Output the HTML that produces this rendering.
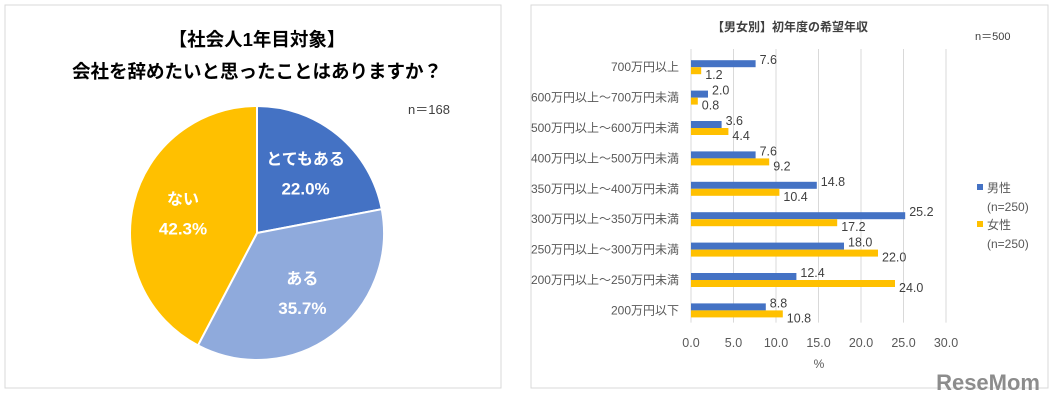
<!DOCTYPE html>
<html><head><meta charset="utf-8">
<style>
body{margin:0;background:#fff;width:1055px;height:403px;overflow:hidden;font-family:"Liberation Sans","Noto Sans CJK JP",sans-serif;}
svg text{font-family:"Liberation Sans","Noto Sans CJK JP",sans-serif;}
</style></head>
<body>
<svg id="c" width="1055" height="403" xmlns="http://www.w3.org/2000/svg">
<rect x="5" y="5" width="496" height="383" fill="#fff" stroke="#d9d9d9"/>
<rect x="531" y="5" width="517" height="383" fill="#fff" stroke="#d9d9d9"/>
<text x="257" y="46" text-anchor="middle" font-size="18.5" font-weight="bold" fill="#000">【社会人1年目対象】</text>
<text x="257" y="78" text-anchor="middle" font-size="18.5" font-weight="bold" fill="#000">会社を辞めたいと思ったことはありますか？</text>
<text x="408" y="114" font-size="13" fill="#404040">n＝168</text>
<g id="pie"></g>
<text x="790" y="31" text-anchor="middle" font-size="12" font-weight="bold" fill="#404040">【男女別】初年度の希望年収</text>
<text x="975" y="40" font-size="11" fill="#404040">n＝500</text>
<g id="bars"></g>
<text x="819" y="368" text-anchor="middle" font-size="12" fill="#595959">%</text>
<rect x="977" y="184" width="6" height="6" fill="#4472C4"/>
<text x="987" y="192" font-size="12" fill="#595959">男性</text>
<text x="987" y="211" font-size="12" fill="#595959">(n=250)</text>
<rect x="977" y="221" width="6" height="6" fill="#FFC000"/>
<text x="987" y="229" font-size="12" fill="#595959">女性</text>
<text x="987" y="248" font-size="12" fill="#595959">(n=250)</text>
<text x="1040" y="390" text-anchor="end" font-size="22" font-weight="bold" fill="#8c8c8c">ReseMom</text>
</svg>
<script>
const pieLabels=["とてもある","ある","ない"];
const pieValues=[22.0,35.7,42.3];
const pieColors=["#4472C4","#8FAADC","#FFC000"];
const categories=["700万円以上","600万円以上～700万円未満","500万円以上～600万円未満","400万円以上～500万円未満","350万円以上～400万円未満","300万円以上～350万円未満","250万円以上～300万円未満","200万円以上～250万円未満","200万円以下"];
const maleValues=[7.6,2.0,3.6,7.6,14.8,25.2,18.0,12.4,8.8];
const femaleValues=[1.2,0.8,4.4,9.2,10.4,17.2,22.0,24.0,10.8];
const xTicks=[0,5,10,15,20,25,30];
const NS="http://www.w3.org/2000/svg";
function mk(tag,attrs,parent){const e=document.createElementNS(NS,tag);for(const k in attrs)e.setAttribute(k,attrs[k]);parent.appendChild(e);return e;}
// pie
const pieG=document.getElementById('pie');
const cx=257,cy=233,r=127;
const total=pieValues.reduce((a,b)=>a+b,0);
let a0=-Math.PI/2;
pieValues.forEach((v,i)=>{
  const a1=a0+v/total*2*Math.PI;
  const x0=cx+r*Math.cos(a0),y0=cy+r*Math.sin(a0),x1=cx+r*Math.cos(a1),y1=cy+r*Math.sin(a1);
  const large=(a1-a0)>Math.PI?1:0;
  const p=mk('path',{d:`M${cx},${cy} L${x0},${y0} A${r},${r} 0 ${large} 1 ${x1},${y1} Z`,fill:pieColors[i],stroke:'#fff','stroke-width':2},pieG);
  
  
  const am=(a0+a1)/2, lr=r*0.6;
  const lx=cx+lr*Math.cos(am), ly=cy+lr*Math.sin(am)-4;
  const t1=mk('text',{x:lx,y:ly-6,'text-anchor':'middle','font-size':16,'font-weight':'bold',fill:'#fff'},pieG);
  t1.textContent=pieLabels[i];
  
  
  const t2=mk('text',{x:lx,y:ly+24,'text-anchor':'middle','font-size':17,'font-weight':'bold',fill:'#fff'},pieG);
  t2.textContent=v.toFixed(1)+'%';
  
  
  a0=a1;
});
// bars
const g=document.getElementById('bars');
const x0p=691,pxPer=8.5,plotTop=49,rowH=30.4,bh=7;
const X=v=>x0p+v*pxPer;
xTicks.forEach(t=>{
  const l=mk('line',{x1:X(t),x2:X(t),y1:plotTop,y2:plotTop+rowH*categories.length,stroke:'#d9d9d9'},g);
  
  
  const tx=mk('text',{x:X(t),y:347,'text-anchor':'middle','font-size':12.5,fill:'#595959'},g);
  tx.textContent=t.toFixed(1);
  
  
});
categories.forEach((c,i)=>{
  const yc=plotTop+rowH*i+rowH/2+3;
  const ct=mk('text',{x:679,y:yc+4,'text-anchor':'end','font-size':12,fill:'#595959'},g);
  ct.textContent=c;
  
  
  const bm=mk('rect',{x:X(0),y:yc-bh,width:X(maleValues[i])-X(0),height:bh,fill:'#4472C4'},g);
  
  
  const bf=mk('rect',{x:X(0),y:yc,width:X(femaleValues[i])-X(0),height:bh,fill:'#FFC000'},g);
  
  
  const lm=mk('text',{x:X(maleValues[i])+4,y:yc-3,'font-size':12.5,fill:'#404040'},g);
  lm.textContent=maleValues[i].toFixed(1);
  
  
  const lf=mk('text',{x:X(femaleValues[i])+4,y:yc+12,'font-size':12.5,fill:'#404040'},g);
  lf.textContent=femaleValues[i].toFixed(1);
  
  
});
</script>
</body></html>
